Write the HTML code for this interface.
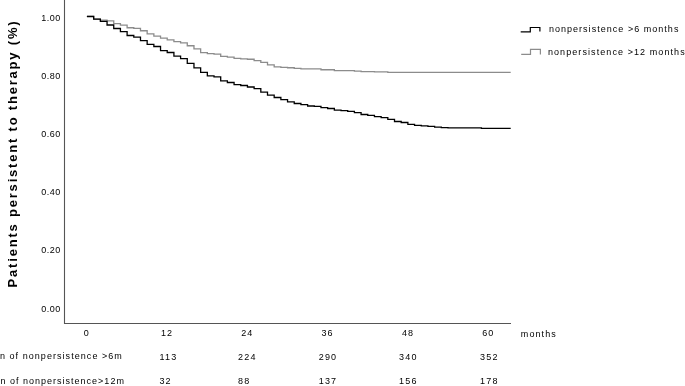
<!DOCTYPE html>
<html><head><meta charset="utf-8"><style>
html,body{margin:0;padding:0;background:#fff;width:685px;height:386px;overflow:hidden}
svg{position:absolute;left:0;top:0;will-change:transform;font-family:'Liberation Sans',sans-serif;}
text{font-family:'Liberation Sans',sans-serif;}
</style></head><body>
<svg width="685" height="386" viewBox="0 0 685 386">
<path d="M64.5,0V323.5H511" fill="none" stroke="#555" stroke-width="1.1"/>
<path d="M86.90,16.45H93.69V19.15H100.37V20.05H107.06V20.85H113.74V23.55H120.42V25.15H127.11V27.75H133.79V28.35H140.48V30.75H147.16V33.95H153.85V36.05H160.53V38.15H167.22V39.90H173.91V41.55H180.59V42.95H187.27V45.75H193.96V48.85H200.64V52.55H207.33V53.55H214.01V54.05H220.70V56.35H227.38V57.05H234.07V58.45H240.75V58.95H247.44V59.25H254.12V60.65H260.81V62.35H267.50V64.85H274.18V66.85H280.87V67.45H287.55V67.75H294.24V68.45H300.92V68.95H307.61V68.95H314.29V68.95H320.98V69.75H327.66V69.75H334.35V70.65H341.03V70.65H347.71V70.65H354.40V71.05H361.08V71.55H367.77V71.55H374.45V71.95H381.14V71.95H387.82V72.35H510.70" fill="none" stroke="#8c8c8c" stroke-width="1.3"/>
<path d="M86.90,16.50H93.69V19.20H100.37V21.40H107.06V25.00H113.74V28.50H120.42V31.70H127.11V35.50H133.79V37.20H140.48V40.60H147.16V44.30H153.85V46.50H160.53V50.70H167.22V52.50H173.91V56.20H180.59V58.70H187.27V63.40H193.96V67.80H200.64V72.30H207.33V75.80H214.01V76.90H220.70V80.90H227.38V82.50H234.07V84.60H240.75V85.50H247.44V87.00H254.12V88.70H260.81V92.10H267.50V95.10H274.18V97.50H280.87V99.60H287.55V101.90H294.24V103.50H300.92V104.60H307.61V106.00H314.29V106.40H320.98V107.60H327.66V108.50H334.35V110.10H341.03V110.60H347.71V111.40H354.40V112.60H361.08V114.50H367.77V115.30H374.45V116.60H381.14V117.60H387.82V119.30H394.51V121.50H401.19V122.50H407.88V124.40H414.56V125.30H421.25V125.80H427.94V126.40H434.62V127.20H441.31V127.60H447.99V127.80H454.67V127.80H461.36V127.80H468.04V127.80H474.73V127.80H481.41V128.30H510.70" fill="none" stroke="#000" stroke-width="1.3"/>
<text x="60.90" y="20.70" font-size="9" letter-spacing="0.5" text-anchor="end" font-weight="normal" fill="#000" >1.00</text>
<text x="60.90" y="78.88" font-size="9" letter-spacing="0.5" text-anchor="end" font-weight="normal" fill="#000" >0.80</text>
<text x="60.90" y="137.06" font-size="9" letter-spacing="0.5" text-anchor="end" font-weight="normal" fill="#000" >0.60</text>
<text x="60.90" y="195.24" font-size="9" letter-spacing="0.5" text-anchor="end" font-weight="normal" fill="#000" >0.40</text>
<text x="60.90" y="253.42" font-size="9" letter-spacing="0.5" text-anchor="end" font-weight="normal" fill="#000" >0.20</text>
<text x="60.90" y="311.60" font-size="9" letter-spacing="0.5" text-anchor="end" font-weight="normal" fill="#000" >0.00</text>
<text x="86.70" y="336.30" font-size="9" letter-spacing="1.0" text-anchor="middle" font-weight="normal" fill="#000" >0</text>
<text x="167.00" y="336.30" font-size="9" letter-spacing="1.0" text-anchor="middle" font-weight="normal" fill="#000" >12</text>
<text x="247.30" y="336.30" font-size="9" letter-spacing="1.0" text-anchor="middle" font-weight="normal" fill="#000" >24</text>
<text x="327.60" y="336.30" font-size="9" letter-spacing="1.0" text-anchor="middle" font-weight="normal" fill="#000" >36</text>
<text x="407.90" y="336.30" font-size="9" letter-spacing="1.0" text-anchor="middle" font-weight="normal" fill="#000" >48</text>
<text x="488.20" y="336.30" font-size="9" letter-spacing="1.0" text-anchor="middle" font-weight="normal" fill="#000" >60</text>
<text x="520.80" y="336.80" font-size="9" letter-spacing="1.1" text-anchor="start" font-weight="normal" fill="#000" >months</text>
<text x="159.40" y="360.10" font-size="9" letter-spacing="1.2" text-anchor="start" font-weight="normal" fill="#000" >113</text>
<text x="159.40" y="384.20" font-size="9" letter-spacing="1.2" text-anchor="start" font-weight="normal" fill="#000" >32</text>
<text x="238.10" y="360.10" font-size="9" letter-spacing="1.2" text-anchor="start" font-weight="normal" fill="#000" >224</text>
<text x="238.10" y="384.20" font-size="9" letter-spacing="1.2" text-anchor="start" font-weight="normal" fill="#000" >88</text>
<text x="318.70" y="360.10" font-size="9" letter-spacing="1.2" text-anchor="start" font-weight="normal" fill="#000" >290</text>
<text x="318.70" y="384.20" font-size="9" letter-spacing="1.2" text-anchor="start" font-weight="normal" fill="#000" >137</text>
<text x="399.00" y="360.10" font-size="9" letter-spacing="1.2" text-anchor="start" font-weight="normal" fill="#000" >340</text>
<text x="399.00" y="384.20" font-size="9" letter-spacing="1.2" text-anchor="start" font-weight="normal" fill="#000" >156</text>
<text x="480.00" y="360.10" font-size="9" letter-spacing="1.2" text-anchor="start" font-weight="normal" fill="#000" >352</text>
<text x="480.00" y="384.20" font-size="9" letter-spacing="1.2" text-anchor="start" font-weight="normal" fill="#000" >178</text>
<text x="122.90" y="359.00" font-size="9" letter-spacing="1.05" text-anchor="end" font-weight="normal" fill="#000" >n of nonpersistence &gt;6m</text>
<text x="124.90" y="384.20" font-size="9" letter-spacing="1.0" text-anchor="end" font-weight="normal" fill="#000" >n of nonpersistence&gt;12m</text>
<path d="M520.7,31.8H530.3V27.5H539.9V31.6" fill="none" stroke="#000" stroke-width="1.2"/>
<path d="M521.2,54.3H530.5V49.3H540.4V54.5" fill="none" stroke="#8c8c8c" stroke-width="1.2"/>
<text x="548.90" y="31.80" font-size="9" letter-spacing="1.03" text-anchor="start" font-weight="normal" fill="#000" >nonpersistence &gt;6 months</text>
<text x="547.90" y="54.60" font-size="9" letter-spacing="1.08" text-anchor="start" font-weight="normal" fill="#000" >nonpersistence &gt;12 months</text>
<text transform="translate(16.8,287.4) rotate(-90)" x="0" y="0" font-size="13" font-weight="bold" letter-spacing="1.8" word-spacing="0" fill="#000">Patients persistent to therapy (%)</text>
</svg>
</body></html>
